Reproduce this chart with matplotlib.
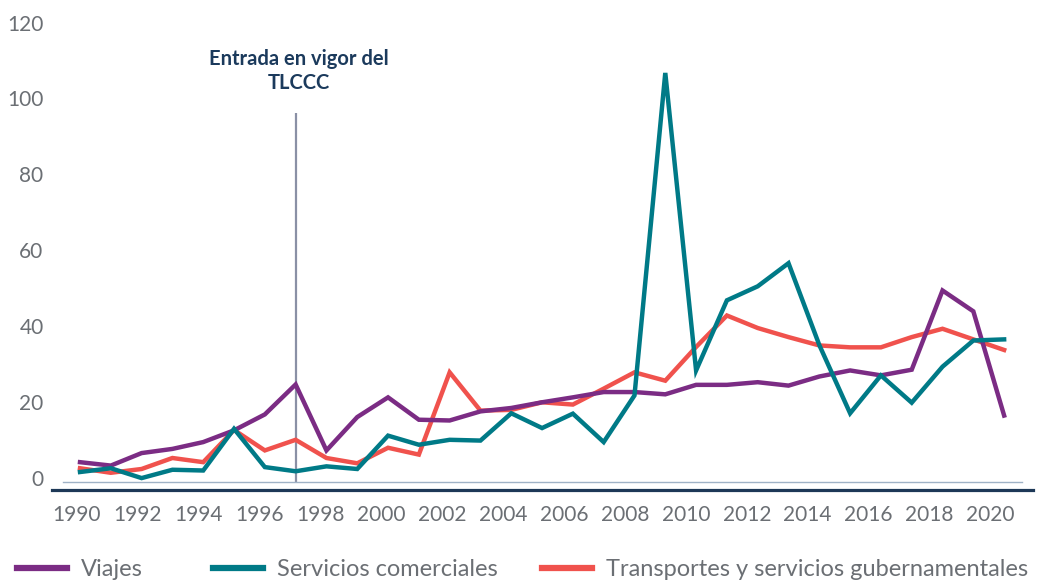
import matplotlib
matplotlib.use("Agg")
import matplotlib.pyplot as plt
import numpy as np
from matplotlib.lines import Line2D
from matplotlib.transforms import ScaledTranslation

plt.rcParams['font.family'] = ['Lato', 'DejaVu Sans']

years = list(range(1990, 2021))
viajes = [5.1, 4.2, 7.5, 8.6, 10.4, 13.5, 17.7, 25.6, 8.2, 17.0,
          22.2, 16.3, 16.1, 18.5, 19.4, 20.9, 22.2, 23.6, 23.6, 23.0,
          25.5, 25.5, 26.2, 25.3, 27.7, 29.3, 28.0, 29.5, 50.4, 44.9, 17.4]
servicios = [2.5, 3.5, 0.9, 3.1, 2.9, 13.9, 3.8, 2.7, 4.0, 3.3,
             12.1, 9.7, 11.0, 10.8, 18.0, 14.1, 17.9, 10.4, 22.7, 107.8,
             29.3, 47.8, 51.5, 57.6, 36.0, 18.0, 28.0, 20.8, 30.3, 37.2, 37.5]
transportes = [3.5, 2.3, 3.3, 6.2, 5.1, 13.6, 8.2, 11.0, 6.2, 4.8,
               8.9, 7.1, 28.8, 18.7, 18.9, 20.9, 20.3, 24.5, 28.8, 26.6,
               35.5, 43.8, 40.5, 38.1, 35.9, 35.4, 35.4, 38.1, 40.3, 37.5, 34.7]
series_names = ["Viajes", "Servicios comerciales", "Transportes y servicios gubernamentales"]
xtick_labels = [str(y) for y in range(1990, 2021, 2)]
yticks = [0, 20, 40, 60, 80, 100, 120]
event_year = 1997
event_label = "Entrada en vigor del\nTLCCC"

c_viajes = "#7b2c84"
c_serv = "#007a87"
c_trans = "#f0524d"
c_text = "#6b6f74"
c_navy = "#1b3a5c"

W, H = 1039, 580
fig = plt.figure(figsize=(W / 100, H / 100), dpi=100)
ax = fig.add_axes([63 / W, 1 - 481.5 / H, (1022 - 63) / W, (481.5 - 26.7) / H])

lw = 3.2
ax.plot(years, transportes, color=c_trans, lw=lw, solid_joinstyle='miter', clip_on=False, zorder=3)
ax.plot(years, viajes, color=c_viajes, lw=lw, solid_joinstyle='miter', clip_on=False, zorder=4)
ax.plot(years, servicios, color=c_serv, lw=lw, solid_joinstyle='miter', clip_on=False, zorder=5)

ax.set_xlim(1989.448, 2020.58)
ax.set_ylim(0, 120)

# event line + annotation
ax.vlines(event_year, 0, 97.2, color="#8a90a5", lw=1.6, zorder=2)
ax.text(event_year + 0.12, 108.3, event_label, ha='center', va='center',
        fontsize=14.5, fontweight='bold', color=c_navy, linespacing=1.25)

# ticks
tick_pos = 1989.90 + np.arange(len(xtick_labels)) * 1.977
ax.set_xticks(tick_pos)
ax.set_xticklabels(xtick_labels)
ax.set_yticks(yticks)
ax.set_yticklabels([str(v) for v in yticks])
ax.tick_params(axis='both', length=0, labelsize=15, labelcolor=c_text)
ax.tick_params(axis='y', pad=14)
ax.tick_params(axis='x', pad=17)
off = ScaledTranslation(0, 4 / 100, fig.dpi_scale_trans)
for lbl in ax.get_yticklabels():
    lbl.set_transform(lbl.get_transform() + off)

for s in ['top', 'right', 'left']:
    ax.spines[s].set_visible(False)
ax.spines['bottom'].set_color("#9fb2c6")
ax.spines['bottom'].set_linewidth(1.0)

# dark baseline below axis
fig.add_artist(Line2D([52 / W, 1033 / W], [1 - 489.5 / H, 1 - 489.5 / H],
                      transform=fig.transFigure, color="#1d3857", lw=2.3))

# legend entries placed individually
colors = [c_viajes, c_serv, c_trans]
leg_x = [17, 213, 542]
for name, col, lx in zip(series_names, colors, leg_x):
    lg = fig.legend([Line2D([], [], color=col, lw=4.5)], [name], loc='center left',
                    bbox_to_anchor=(lx / W, 1 - 570 / H), frameon=False,
                    fontsize=17, handlelength=2.1, handletextpad=0.62,
                    labelcolor=c_text, borderaxespad=0, borderpad=0)

fig.savefig("out.png", dpi=100, facecolor='white')
